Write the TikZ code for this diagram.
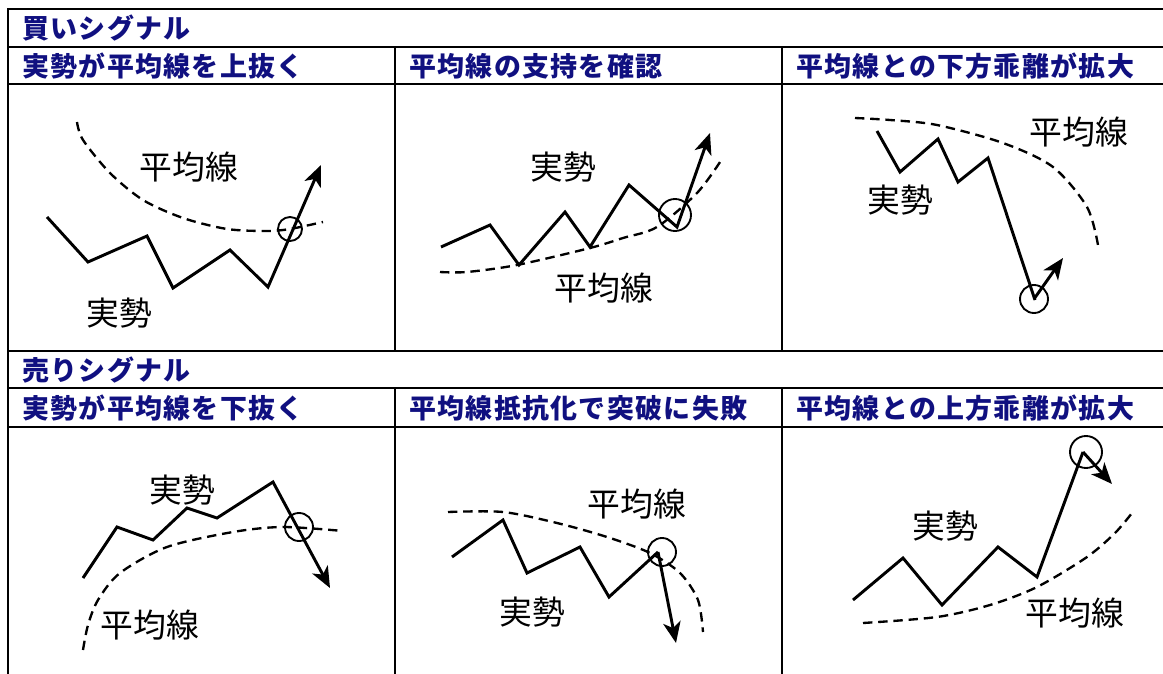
\documentclass[tikz,border=0pt]{standalone}
\usepackage{fontspec}
\usepackage{tikz}
\usetikzlibrary{arrows.meta,positioning}
\newfontfamily\jpfont{Noto Sans CJK JP}
\newfontfamily\headfont{Noto Sans CJK JP Black}[LetterSpace=5]
\definecolor{signalblue}{RGB}{16,16,128}

\begin{document}
\begin{tikzpicture}[x=0.03cm, y=-0.03cm,
  headtext/.style={anchor=west, inner sep=0pt, text=signalblue, font=\headfont\fontsize{23pt}{25pt}\selectfont},
  word/.style={inner sep=0pt, font=\jpfont\fontsize{28pt}{30pt}\selectfont},
  rule/.style={line width=1.8pt},
  price/.style={line width=2.5pt, line join=miter},
  trend/.style={price, -{Stealth[length=18pt, width=15pt, inset=5pt]}},
  avg/.style={line width=2pt, dash pattern=on 8pt off 5pt},
  ring/.style={circle, draw, line width=1.6pt, inner sep=0pt, minimum size=#1}]
  \useasboundingbox (0,0) rectangle (1163,674);

  % Table
  \draw[rule] (8,674) -- (8,9) -- (1163,9);
  \foreach \y in {47,84,351,388,427} \draw[rule] (8,\y) -- (1163,\y);
  \foreach \x in {395,782} {
    \draw[rule] (\x,47) -- (\x,351);
    \draw[rule] (\x,388) -- (\x,674);
  }

  % Headings
  \node[headtext] (buy) at (22,28) {買いシグナル};
  \node[headtext] (buyA) at (22,66) {実勢が平均線を上抜く};
  \node[headtext] (buyB) at (409,66) {平均線の支持を確認};
  \node[headtext] (buyC) at (796,66) {平均線との下方乖離が拡大};
  \node[headtext] (sell) at (22,370) {売りシグナル};
  \node[headtext] (sellA) at (22,408) {実勢が平均線を下抜く};
  \node[headtext] (sellB) at (409,408) {平均線抵抗化で突破に失敗};
  \node[headtext] (sellC) at (796,408) {平均線との上方乖離が拡大};

  % Panel 1: up-cross
  \draw[avg] plot[smooth] coordinates {(77,122) (83,140) (110,173) (143,200) (183,218) (227,229) (267,231) (290,229) (323,222)};
  \draw[trend] (47,217) -- (88,262) -- (147,236) -- (173,288) -- (230,250) -- (268,287) -- (321,165);
  \node[ring=0.72cm] (hitA) at (290,229) {};
  \node[word] (avgA) at (189,167) {平均線};
  \node[word] (realA) at (119,313) {実勢};

  % Panel 2: support
  \draw[avg] plot[smooth] coordinates {(440,272) (467,272) (517,265) (590,248) (623,238) (657,227) (697,193) (720,162)};
  \draw[trend] (441,247) -- (490,225) -- (519,265) -- (565,212) -- (590,247) -- (629,185) -- (677,227) -- (710,133);
  \node[ring=0.96cm] (hitB) at (675,215) {};
  \node[word] (realB) at (563,167) {実勢};
  \node[word] (avgB) at (604,288) {平均線};

  % Panel 3: far below
  \draw[avg] plot[smooth] coordinates {(855,118) (890,120) (937,125) (1003,143) (1053,167) (1087,207) (1098,245)};
  \draw[price] (877,131) -- (900,172) -- (938,139) -- (958,182) -- (988,158) -- (1035,300);
  \node[ring=0.84cm] (hitC) at (1034,299) {};
  \draw[trend] (hitC.center) -- (1063,258);
  \node[word] (avgC) at (1079,132) {平均線};
  \node[word] (realC) at (900,200) {実勢};

  % Panel 4: down-cross
  \draw[avg] plot[smooth] coordinates {(83,650) (88,625) (98,600) (120,573) (167,547) (233,532) (283,527) (343,531)};
  \draw[trend] (83,578) -- (117,527) -- (153,540) -- (187,508) -- (217,518) -- (273,482) -- (330,588);
  \node[ring=0.84cm] (hitD) at (299,527) {};
  \node[word] (realD) at (182,490) {実勢};
  \node[word] (avgD) at (150,625) {平均線};

  % Panel 5: resistance
  \draw[avg] plot[smooth] coordinates {(448,512) (503,512) (557,523) (607,537) (650,553) (680,573) (698,600) (703,632)};
  \draw[price] (452,557) -- (503,520) -- (527,573) -- (580,547) -- (609,597) -- (658,552);
  \node[ring=0.84cm] (hitE) at (662,552) {};
  \draw[trend] (658,552) -- (676,643);
  \node[word] (avgE) at (637,504) {平均線};
  \node[word] (realE) at (532,612) {実勢};

  % Panel 6: far above
  \draw[avg] plot[smooth] coordinates {(863,623) (937,617) (990,605) (1037,587) (1087,557) (1115,533) (1132,513)};
  \draw[price] (853,600) -- (903,558) -- (942,605) -- (998,547) -- (1037,577) -- (1083,452);
  \node[ring=0.96cm] (hitF) at (1086,452) {};
  \draw[trend] (1083,452) -- (1112,484);
  \node[word] (realF) at (945,526) {実勢};
  \node[word] (avgF) at (1075,613) {平均線};
\end{tikzpicture}
\end{document}
